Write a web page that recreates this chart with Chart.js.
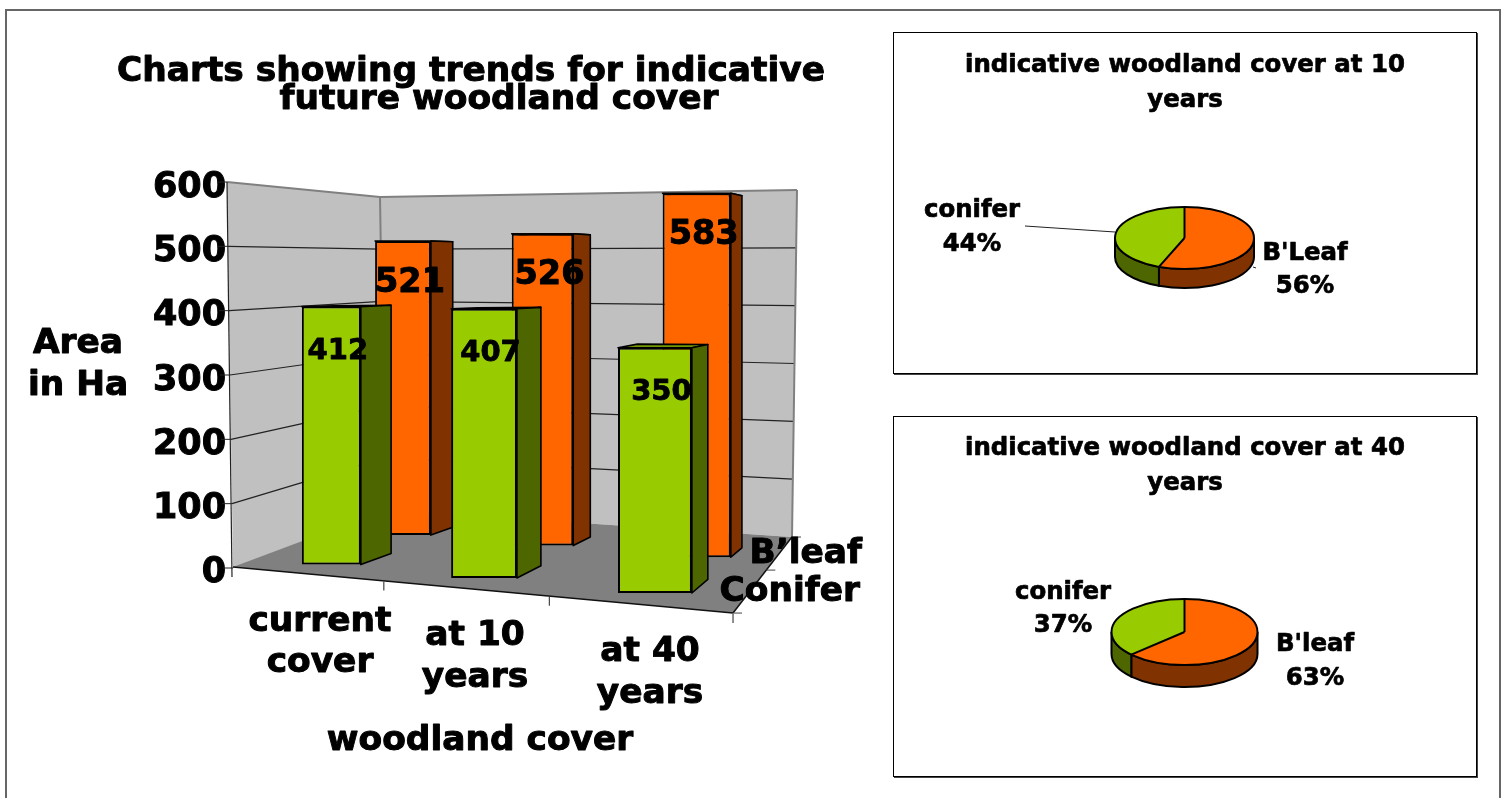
<!DOCTYPE html>
<html><head><meta charset="utf-8">
<script src="https://cdn.jsdelivr.net/npm/chart.js@4"></script>
<style>
html,body{margin:0;padding:0;background:#fff;width:1502px;height:798px;overflow:hidden}
.page{position:absolute;left:5px;top:9px;width:1492px;height:900px;border:2px solid #666}
canvas{position:absolute}
.box{position:absolute;border:1px solid #000;box-sizing:border-box;box-shadow:1px 1px 0 #444}
</style></head><body>
<div class="page"></div>
<canvas id="bars" width="885" height="798" style="left:0;top:0"></canvas>
<div class="box" style="left:893px;top:32px;width:584px;height:342px"></div>
<div class="box" style="left:893px;top:416px;width:584px;height:361px"></div>
<canvas id="pie10" width="583" height="341" style="left:893px;top:32px"></canvas>
<canvas id="pie40" width="583" height="360" style="left:893px;top:416px"></canvas>
<script>
const categories=[['current','cover'],['at 10','years'],['at 40','years']];
const coniferValues=[412,407,350];
const bleafValues=[521,526,583];
const seriesNames=['Conifer','B\u2019leaf'];
const chartTitle=['Charts showing trends for indicative','future woodland cover'];
const yAxisTitle=['Area','in Ha'];
const xAxisTitle='woodland cover';
const pie10Labels=["B'Leaf",'conifer'];
const pie10Values=[56,44];
const pie40Labels=["B'leaf",'conifer'];
const pie40Values=[63,37];

const ORANGE='#FF6600',GREEN='#99CC00',DORANGE='#803300',DGREEN='#4D6600';
const FONT='"DejaVu Sans"';
Chart.defaults.font.family=FONT;
Chart.defaults.animation=false;

/* floor plane: unit square to picture (perspective homography) */
const H={a:382.3,b:248.9,c:233,d:-52.4,e:71.4,f:567,g:-0.1606,h:0.2518};
const den=(u,w)=>H.g*u+H.h*w+1;
const floor=(u,w)=>({x:(H.a*u+H.b*w+H.c)/den(u,w),y:(H.d*u+H.e*w+H.f)/den(u,w)});
const rows=[{w0:.13,w1:.33,du:.068,shift:.009,k:.98,font:29,lx:6.5,ly:41},{w0:.60,w1:.78,du:.07,shift:.015,k:.987,font:33.5,lx:7,ly:38}];
const sideCols=[DGREEN,DORANGE],topCols=['#739900','#BF4C00'];
const lerp=(p,q,t)=>({x:p.x+(q.x-p.x)*t,y:p.y+(q.y-p.y)*t});
const wall={lb:{x:233,y:568},lt:{x:227,y:182},cb:{x:385,y:510},ct:{x:380,y:197},rb:{x:792,y:537},rt:{x:797,y:190}};

function poly(ctx,pts,fill,stroke,lw){
  ctx.beginPath();pts.forEach((p,i)=>i?ctx.lineTo(p.x,p.y):ctx.moveTo(p.x,p.y));ctx.closePath();
  if(fill){ctx.fillStyle=fill;ctx.fill();}
  if(stroke){ctx.strokeStyle=stroke;ctx.lineWidth=lw;ctx.lineJoin='round';ctx.stroke();}
}
function seg(ctx,x1,y1,x2,y2,c,lw){ctx.beginPath();ctx.moveTo(x1,y1);ctx.lineTo(x2,y2);ctx.strokeStyle=c;ctx.lineWidth=lw;ctx.stroke();}
function text(ctx,s,x,y,size,align){
  const dy=size>28?4:2;
  ctx.font='bold '+size+'px '+FONT;ctx.fillStyle='#000';ctx.textAlign=align||'center';ctx.textBaseline='middle';
  ctx.fillText(s,x,y+dy);
  ctx.strokeStyle='#000';ctx.lineWidth=size/35;ctx.lineJoin='round';ctx.strokeText(s,x,y+dy);
}

const scene={
  id:'scene',
  beforeDatasetsDraw(chart){
    const ctx=chart.ctx,ys=chart.scales.y,xs=chart.scales.x;
    const unit=ys.getPixelForValue(0)-ys.getPixelForValue(1);
    /* walls */
    poly(ctx,[wall.lt,wall.ct,wall.cb,wall.lb],'#C0C0C0');
    poly(ctx,[wall.ct,wall.rt,wall.rb,wall.cb],'#C0C0C0');
    ys.ticks.forEach(t=>{
      const k=t.value/ys.max;
      const c=lerp(wall.cb,wall.ct,k),r=lerp(wall.rb,wall.rt,k),l=lerp(wall.lb,wall.lt,k);
      if(t.value>0&&t.value<ys.max){
        seg(ctx,l.x,l.y,c.x,c.y,'#222',1.2);
        seg(ctx,c.x,c.y,r.x,r.y,'#222',1.2);
      }
      seg(ctx,l.x-10,l.y,l.x,l.y,'#222',1);
    });
    seg(ctx,wall.lt.x,wall.lt.y,wall.ct.x,wall.ct.y,'#808080',2);
    seg(ctx,wall.ct.x,wall.ct.y,wall.rt.x,wall.rt.y,'#808080',2);
    seg(ctx,wall.rt.x,wall.rt.y,wall.rb.x,wall.rb.y,'#808080',2);
    seg(ctx,wall.ct.x,wall.ct.y,wall.cb.x,wall.cb.y,'#808080',2);
    seg(ctx,wall.lt.x,wall.lt.y,wall.lb.x-1,wall.lb.y+9,'#222',1.2);
    /* floor */
    const fl=[floor(0,0),floor(1,0),floor(1,1),floor(0,1)];
    poly(ctx,fl,'#808080');
    seg(ctx,fl[0].x,fl[0].y,fl[1].x,fl[1].y,'#111',1.5);
    seg(ctx,fl[1].x,fl[1].y,fl[2].x,fl[2].y,'#111',1.5);
    [1/3,2/3,1].forEach(u=>{const p=floor(u,0);const o=u<1?3:0;seg(ctx,p.x+o,p.y+1,p.x+o,p.y+10,'#444',1.2);});
    seg(ctx,fl[1].x,fl[1].y,fl[1].x+9,fl[1].y,'#444',1);
    const m=floor(1,.5);seg(ctx,m.x,m.y,m.x+9,m.y,'#444',1);
    seg(ctx,fl[2].x,fl[2].y,fl[2].x+9,fl[2].y,'#444',1);
    /* project bars */
    chart.data.datasets.forEach((ds,di)=>{
      const meta=chart.getDatasetMeta(di),R=rows[di];
      meta.data.forEach((el,i)=>{
        const v=ds.data[i];
        const u=(xs.getPixelForValue(i)-xs.left)/xs.width+R.shift;
        const px=v*unit*R.k;
        const top=(uu,ww)=>{const p=floor(uu,ww);return {x:p.x,y:p.y-px/den(uu,ww)};};
        const fb=floor(u-R.du,R.w0),rb=floor(u+R.du,R.w0),bb=floor(u+R.du,R.w1);
        const ft=top(u-R.du,R.w0),rt=top(u+R.du,R.w0),bt=top(u+R.du,R.w1),blt=top(u-R.du,R.w1);
        el.x=(fb.x+rb.x)/2;el.width=rb.x-fb.x;
        el.base=(fb.y+rb.y)/2;el.y=(ft.y+rt.y)/2;
        el.$geo={rb,bb,rt,bt,ft,blt};
      });
    });
  },
  beforeDatasetDraw(chart,args){
    const ctx=chart.ctx,di=args.index,meta=args.meta;
    meta.data.forEach(el=>{
      const g=el.$geo;if(!g)return;
      const half=el.width/2,fy=el.y;
      const rx=el.x+half;
      poly(ctx,[{x:el.x-half,y:fy},{x:g.blt.x,y:g.blt.y},{x:g.bt.x,y:g.bt.y},{x:rx,y:fy}],topCols[di],'#000',1.6);
      poly(ctx,[{x:rx,y:fy},{x:g.bt.x,y:g.bt.y},{x:g.bb.x,y:g.bb.y},{x:rx,y:el.base}],sideCols[di],'#000',1.6);
    });
  },
  afterDraw(chart){
    const ctx=chart.ctx;
    text(ctx,chartTitle[0],471,68,34.4);
    text(ctx,chartTitle[1],499,96,34.4);
    text(ctx,yAxisTitle[0],78,340,34.4);
    text(ctx,yAxisTitle[1],78,382,34.4);
    text(ctx,xAxisTitle,480,737,34.4);
    const spots=[[320,[618,659]],[475,[632,674]],[650,[648,690]]];
    categories.forEach((lines,i)=>lines.forEach((s,j)=>text(ctx,s,spots[i][0],spots[i][1][j],34.4)));
    text(ctx,seriesNames[1],862,550,34.4,'right');
    text(ctx,seriesNames[0],860,588,34.4,'right');
    chart.data.datasets.forEach((ds,di)=>{
      const R=rows[di];
      chart.getDatasetMeta(di).data.forEach((el,i)=>{
        text(ctx,String(ds.data[i]),el.x+R.lx,el.y+R.ly,R.font);
      });
    });
  }
};

new Chart(document.getElementById('bars'),{
  type:'bar',
  data:{labels:categories.map(c=>c.join(' ')),datasets:[
    {label:seriesNames[0],data:coniferValues,backgroundColor:GREEN,borderColor:'#000',borderWidth:2,borderSkipped:false,clip:false},
    {label:seriesNames[1],data:bleafValues,backgroundColor:ORANGE,borderColor:'#000',borderWidth:2,borderSkipped:false,clip:false}
  ]},
  options:{responsive:false,animation:false,
    layout:{padding:{top:188,bottom:225,left:0,right:152}},
    plugins:{legend:{display:false},tooltip:{enabled:false},title:{display:false}},
    scales:{
      x:{display:true,grid:{display:false},border:{display:false},ticks:{display:false},afterFit(s){s.height=0;}},
      y:{min:0,max:600,grid:{display:false,tickLength:0},border:{display:false},
        ticks:{stepSize:100,color:'#000',padding:7,textStrokeColor:'#000',textStrokeWidth:1,font:{size:35,weight:'bold',family:FONT}},
        afterFit(s){s.width=233;}}
    }
  },
  plugins:[scene]
});

function pieChart(id,labels,values,cfg){
  const flat={
    id:'flat',
    beforeDatasetsDraw(chart){
      const ctx=chart.ctx,els=chart.getDatasetMeta(0).data,cx=els[0].x,cy=els[0].y,r=cfg.r,ry=cfg.ry,d=cfg.depth;
      const sides=[DORANGE,DGREEN];
      els.forEach((el,i)=>{
        const a=Math.max(el.startAngle,0),b=Math.min(el.endAngle,Math.PI);
        if(b<=a)return;
        ctx.beginPath();
        ctx.ellipse(cx,cy,r,ry,0,a,b);
        ctx.lineTo(cx+r*Math.cos(b),cy+ry*Math.sin(b)+d);
        ctx.ellipse(cx,cy+d,r,ry,0,b,a,true);
        ctx.closePath();
        ctx.fillStyle=sides[i];ctx.fill();
        ctx.strokeStyle='#000';ctx.lineWidth=2;ctx.stroke();
      });
      ctx.save();
      ctx.translate(cx,cy);ctx.scale(1,ry/r);ctx.translate(-cx,-cy);
    },
    afterDatasetsDraw(chart){
      const ctx=chart.ctx;ctx.restore();
      const els=chart.getDatasetMeta(0).data,cx=els[0].x,cy=els[0].y;
      ctx.beginPath();ctx.ellipse(cx,cy,cfg.r,cfg.ry,0,0,Math.PI*2);ctx.strokeStyle='#000';ctx.lineWidth=2;ctx.stroke();
      els.forEach(el=>{
        ctx.beginPath();ctx.moveTo(cx,cy);
        ctx.lineTo(cx+cfg.r*Math.cos(el.startAngle),cy+cfg.ry*Math.sin(el.startAngle));
        ctx.strokeStyle='#000';ctx.lineWidth=2;ctx.stroke();
      });
      cfg.title.forEach((s,i)=>text(ctx,s,292,cfg.titleY[i],cfg.titleSize));
      labels.forEach((s,i)=>{
        const p=cfg.spots[i];
        text(ctx,s,p[0],p[1],24.4);
        text(ctx,values[i]+'%',p[0],p[2],24.4);
      });
      cfg.leaders.forEach(l=>seg(ctx,l[0],l[1],l[2],l[3],'#222',1));
    }
  };
  new Chart(document.getElementById(id),{
    type:'pie',
    data:{labels,datasets:[{data:values,backgroundColor:[ORANGE,GREEN],borderWidth:0,radius:cfg.r}]},
    options:{responsive:false,animation:false,
      layout:{padding:{top:cfg.padTop}},
      plugins:{legend:{display:false},tooltip:{enabled:false},title:{display:false}}},
    plugins:[flat]
  });
}
pieChart('pie10',pie10Labels,pie10Values,{r:69.5,ry:31,depth:19,padTop:71,
  title:['indicative woodland cover at 10','years'],titleY:[32,67],titleSize:24.4,
  spots:[[412,220,253],[79,177,211]],leaders:[[132,194,222,200],[360,235,363,236]]});
pieChart('pie40',pie40Labels,pie40Values,{r:73,ry:33,depth:22,padTop:72,
  title:['indicative woodland cover at 40','years'],titleY:[31,66],titleSize:24.4,
  spots:[[422,227,261],[170,175,208]],leaders:[]});
</script>
</body></html>
